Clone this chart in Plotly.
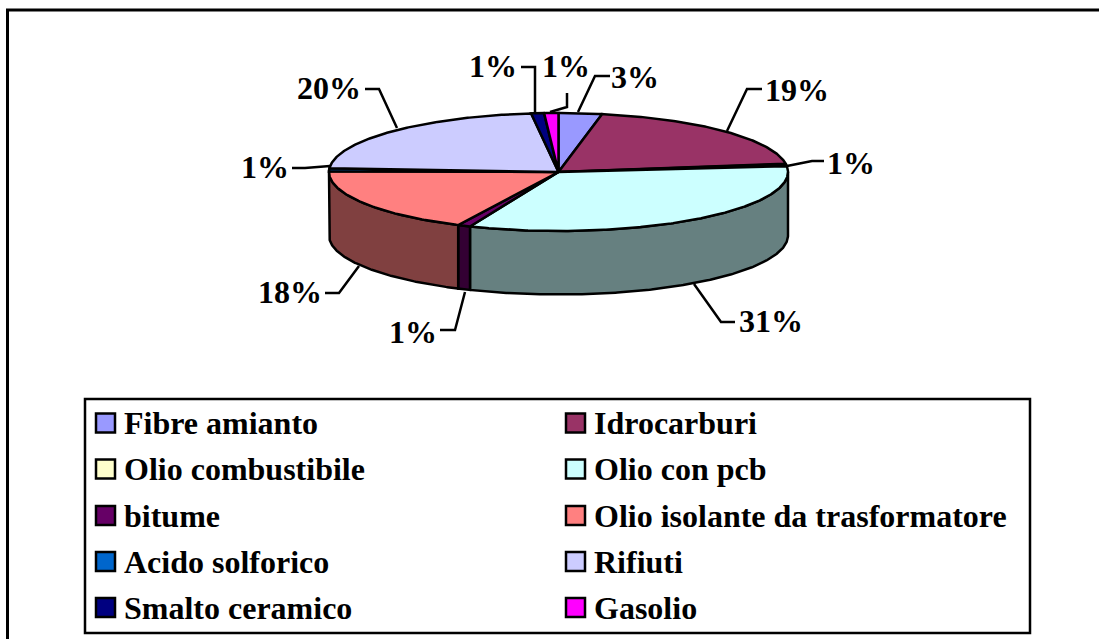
import numpy as np
import plotly.graph_objects as go

# ---- data
categories = ["Fibre amianto", "Idrocarburi", "Olio combustibile", "Olio con pcb", "bitume",
              "Olio isolante da trasformatore", "Acido solforico", "Rifiuti", "Smalto ceramico", "Gasolio"]
shares = [3.05, 19.7, 0.55, 33.0, 0.9, 18.0, 0.8, 22.1, 0.9, 1.0]
percent_labels = ["3%", "19%", "1%", "31%", "1%", "18%", "1%", "20%", "1%", "1%"]
colors = ["#9999FF", "#993366", "#FFFFCC", "#CCFFFF", "#660066",
          "#FF8080", "#0066CC", "#CCCCFF", "#000080", "#FF00FF"]
wall_colors = ["#666699", "#662244", "#808066", "#668080", "#330033",
               "#804040", "#003366", "#666680", "#000040", "#800080"]

# ---- layout (pixel-space axes)
W, H = 1099, 639
CX, CY, RX, RY, DEPTH = 558.5, 172.0, 229.5, 59.0, 63.5
FONT = "Liberation Serif"
LW = 2.5

# label anchor (centre of text) and leader polyline per slice
label_pos = [(635, 76.5), (797, 89.5), (851, 162.5), (771, 321), (413, 332),
             (290, 292), (265, 167), (329, 87.5), (493, 66), (566, 66)]
leaders = [[(578, 112), (595, 76), (610, 76)],
           [(727, 131), (747, 89), (762, 89)],
           [(787, 166), (812, 161), (824, 161)],
           [(694, 284), (721, 322), (735, 322)],
           [(465, 292), (455, 330), (440, 330)],
           [(359, 266), (339, 293), (325, 293)],
           [(330, 166), (305, 168), (292, 168)],
           [(397, 128), (379, 89), (365, 89)],
           [(535, 112), (535, 67), (521, 67)],
           [(550, 112), (567, 107), (567, 93)]]

legend_x = [105.5, 575.5]
legend_y = [423, 469, 515.5, 561.5, 607.5]

fig = go.Figure()


def add_poly(xs, ys, fill, width=LW):
    fig.add_trace(go.Scatter(x=xs, y=ys, mode="lines", fill="toself", fillcolor=fill,
                             line=dict(color="black", width=width), hoverinfo="skip", showlegend=False))


def arc(a0, a1, drop=0.0):
    n = max(2, int(abs(a1 - a0) / 0.5) + 1)
    t = np.radians(np.linspace(a0, a1, n))
    return CX + RX * np.sin(t), CY - RY * np.cos(t) + drop


edges = np.concatenate([[0], np.cumsum(shares)]) / np.sum(shares) * 360.0

# side walls: only the front half of the rim (90..270 degrees clockwise from top)
for i in range(len(shares)):
    a0, a1 = max(edges[i], 90.0), min(edges[i + 1], 270.0)
    if a1 <= a0:
        continue
    tx, ty = arc(a0, a1)
    bx, by = arc(a1, a0, DEPTH)
    add_poly(np.r_[tx, bx, tx[0]], np.r_[ty, by, ty[0]], wall_colors[i])

# top faces
for i in range(len(shares)):
    ax, ay = arc(edges[i], edges[i + 1])
    add_poly(np.r_[CX, ax, CX], np.r_[CY, ay, CY], colors[i])

# percent labels and leader lines
for pts, (lx, ly), txt in zip(leaders, label_pos, percent_labels):
    fig.add_trace(go.Scatter(x=[p[0] for p in pts], y=[p[1] for p in pts], mode="lines",
                             line=dict(color="black", width=2.5), hoverinfo="skip", showlegend=False))
    fig.add_annotation(x=lx, y=ly, text=f"<b>{txt}</b>", showarrow=False, xanchor="center", yanchor="middle",
                       font=dict(family=FONT, size=32, color="black"))

# legend: swatches + text, two columns, filled row by row
for i, name in enumerate(categories):
    x0, y0 = legend_x[i % 2], legend_y[i // 2]
    fig.add_trace(go.Scatter(x=[x0], y=[y0], mode="markers",
                             marker=dict(symbol="square", size=19, color=colors[i],
                                         line=dict(color="black", width=2.5)),
                             hoverinfo="skip", showlegend=False))
    fig.add_annotation(x=x0 + 16, y=y0, text=f"<b>{name}</b>", showarrow=False, xanchor="left", yanchor="middle",
                       font=dict(family=FONT, size=32, color="black"))

# frames (the outer frame runs past the right and bottom edges of the picture)
shapes = [
    dict(type="rect", x0=7.5, y0=10, x1=1130, y1=670, line=dict(color="black", width=3), fillcolor="rgba(0,0,0,0)"),
    dict(type="rect", x0=85, y0=399, x1=1030, y1=633, line=dict(color="black", width=2.5), fillcolor="rgba(0,0,0,0)"),
]

fig.update_layout(
    width=W, height=H, margin=dict(l=0, r=0, t=0, b=0), autosize=False,
    paper_bgcolor="white", plot_bgcolor="white", showlegend=False, shapes=shapes,
    xaxis=dict(range=[0, W], visible=False, fixedrange=True),
    yaxis=dict(range=[H, 0], visible=False, fixedrange=True),
)
fig.write_html("out.html", config={"displayModeBar": False},
               post_script="document.body.style.margin='0';document.body.style.overflow='hidden';")
